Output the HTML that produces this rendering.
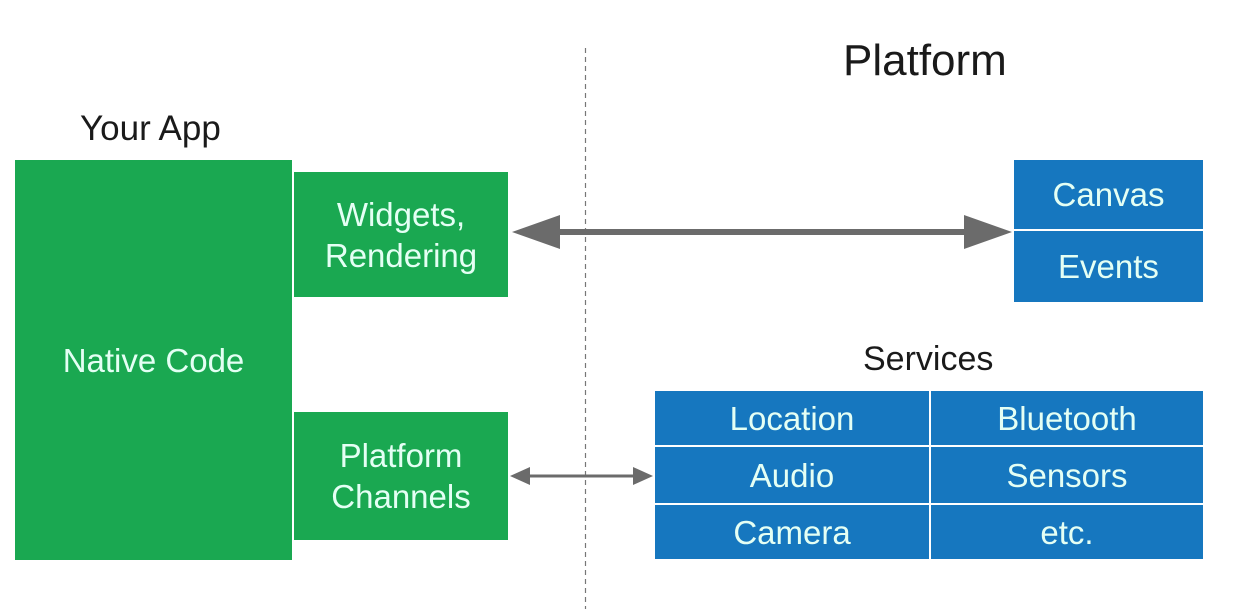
<!DOCTYPE html>
<html><head><meta charset="utf-8"><style>
html,body{margin:0;padding:0;background:#fff;}
body{width:1240px;height:609px;position:relative;overflow:hidden;font-family:"Liberation Sans",Arial,sans-serif;}
.b{position:absolute;display:flex;align-items:center;justify-content:center;text-align:center;color:#e4fff4;font-size:33px;line-height:41px;}
.g{background:#1aa851;}
.bl{background:#1677bf;}
.t{position:absolute;color:#1a1a1a;}
</style></head><body>
<div class="t" style="left:843px;top:36px;font-size:44px;">Platform</div>
<div class="t" style="left:80px;top:109px;font-size:35px;">Your App</div>
<div class="t" style="left:863px;top:340px;font-size:34px;">Services</div>

<div class="b g" style="left:15px;top:160px;width:277px;height:400px;">Native Code</div>
<div class="b g" style="left:294px;top:172px;width:214px;height:125px;">Widgets,<br>Rendering</div>
<div class="b g" style="left:294px;top:412px;width:214px;height:128px;">Platform<br>Channels</div>

<div class="b bl" style="left:1014px;top:160px;width:189px;height:69px;">Canvas</div>
<div class="b bl" style="left:1014px;top:231px;width:189px;height:71px;">Events</div>

<div class="b bl" style="left:655px;top:391px;width:274px;height:54px;">Location</div>
<div class="b bl" style="left:931px;top:391px;width:272px;height:54px;">Bluetooth</div>
<div class="b bl" style="left:655px;top:447px;width:274px;height:56px;">Audio</div>
<div class="b bl" style="left:931px;top:447px;width:272px;height:56px;">Sensors</div>
<div class="b bl" style="left:655px;top:505px;width:274px;height:54px;">Camera</div>
<div class="b bl" style="left:931px;top:505px;width:272px;height:54px;">etc.</div>

<svg width="1240" height="609" style="position:absolute;left:0;top:0;">
<line x1="585.5" y1="48" x2="585.5" y2="609" stroke="#777" stroke-width="1.2" stroke-dasharray="5,4"/>
<line x1="550" y1="232" x2="970" y2="232" stroke="#6b6b6b" stroke-width="6"/>
<polygon points="512,232 560,215 560,249" fill="#6b6b6b"/>
<polygon points="1012,232 964,215 964,249" fill="#6b6b6b"/>
<line x1="525" y1="476" x2="640" y2="476" stroke="#6b6b6b" stroke-width="3"/>
<polygon points="510,476 530,467 530,485" fill="#6b6b6b"/>
<polygon points="653,476 633,467 633,485" fill="#6b6b6b"/>
</svg>
</body></html>
